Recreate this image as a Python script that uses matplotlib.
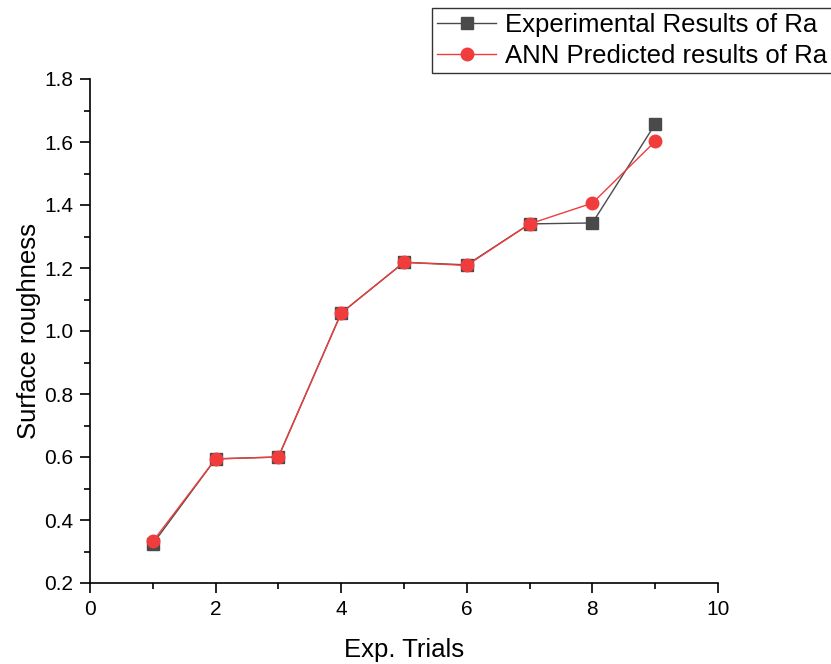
import matplotlib.pyplot as plt

plt.rcParams['font.family'] = ['Liberation Sans', 'DejaVu Sans']

trials = [1, 2, 3, 4, 5, 6, 7, 8, 9]
ra_exp = [0.324, 0.594, 0.600, 1.057, 1.218, 1.210, 1.340, 1.343, 1.657]
ra_ann = [0.332, 0.594, 0.600, 1.057, 1.218, 1.208, 1.340, 1.406, 1.602]

fig = plt.figure(figsize=(8.31, 6.64), dpi=100)
ax = fig.add_axes([90 / 831, 1 - 583 / 664, 628 / 831, 504 / 664])

ax.plot(trials, ra_exp, color='#4a4a4a', lw=1.0, marker='s', ms=8,
        label='Experimental Results of Ra')
ax.plot(trials, ra_ann, color='#f03c3c', lw=1.0, marker='o', ms=9,
        label='ANN Predicted results of Ra')

ax.set_xlim(0, 10)
ax.set_ylim(0.2, 1.8)
ax.set_xticks([0, 2, 4, 6, 8, 10])
ax.set_xticks([1, 3, 5, 7, 9], minor=True)
ax.set_yticks([0.2, 0.4, 0.6, 0.8, 1.0, 1.2, 1.4, 1.6, 1.8])
ax.set_yticks([0.3, 0.5, 0.7, 0.9, 1.1, 1.3, 1.5, 1.7], minor=True)
ax.tick_params(which='major', direction='out', length=7, width=1.2,
               labelsize=15, pad=5)
ax.tick_params(which='minor', direction='out', length=4, width=1.2)
for s in ['top', 'right']:
    ax.spines[s].set_visible(False)
for s in ['left', 'bottom']:
    ax.spines[s].set_linewidth(1.2)

ax.set_xlabel('Exp. Trials', fontsize=18.5, labelpad=14)
ax.set_ylabel('Surface roughness', fontsize=18.5, labelpad=2)

# legend sits partly off the right edge, as in the original
leg = fig.legend(loc='upper left', bbox_to_anchor=(432 / 831, 1 - 8 / 664),
                 fontsize=18.5, frameon=True, fancybox=False, edgecolor='black',
                 borderpad=0.2, handlelength=2.3, labelspacing=0.28,
                 handletextpad=0.35, borderaxespad=0)
leg.get_frame().set_linewidth(1.0)

fig.savefig('out.png', dpi=100)
